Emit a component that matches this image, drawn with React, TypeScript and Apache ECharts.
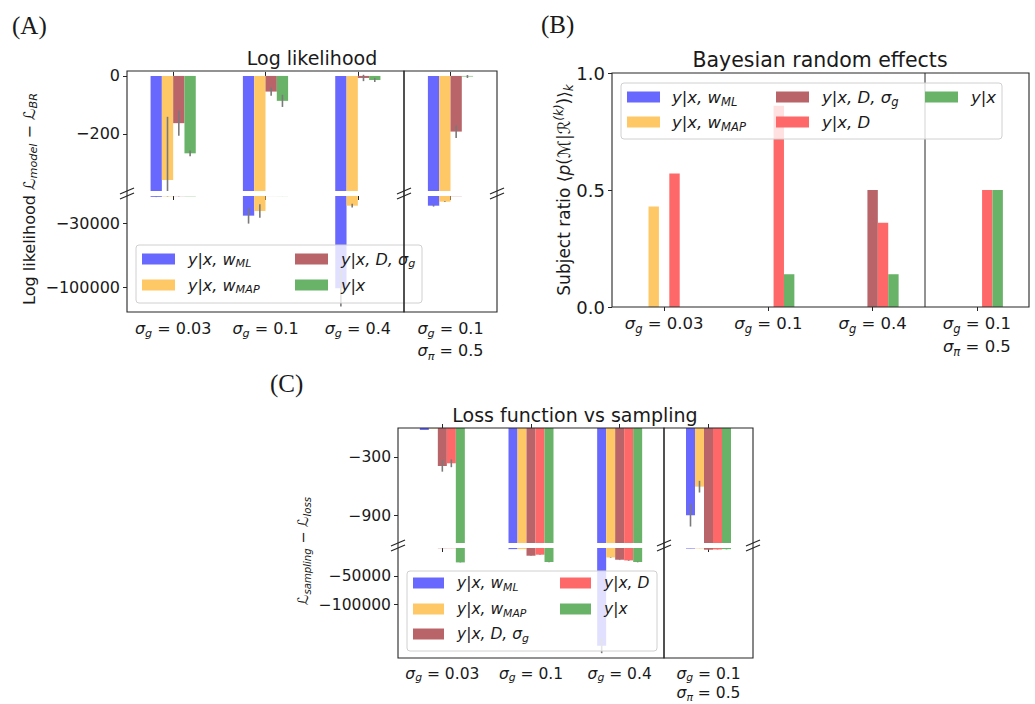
import React, { useEffect, useRef } from 'react';
import * as echarts from 'echarts';

const FONT = 'DejaVu Sans';
const SERIF = 'Liberation Serif';
const INK = '#1a1a1a';
const ERR = '#7a7a7a';
const FRAME = '#262626';

// ---------- categories & models ----------
const categories = ['sg=0.03', 'sg=0.1', 'sg=0.4', 'sg=0.1,sp=0.5'];
const categoryLabels = [
  '{m|σ}{s|g}{n| = 0.03}',
  '{m|σ}{s|g}{n| = 0.1}',
  '{m|σ}{s|g}{n| = 0.4}',
  '{m|σ}{s|g}{n| = 0.1}\n{m|σ}{s|π}{n| = 0.5}',
];
const modelNames = ['y|x, w_ML', 'y|x, w_MAP', 'y|x, D, σ_g', 'y|x, D', 'y|x'];
const modelLegend = ['{i|y|x, w}{s|ML}', '{i|y|x, w}{s|MAP}', '{i|y|x, D, σ}{s|g}', '{i|y|x, D}', '{i|y|x}'];
const modelColors = ['#6868ff', '#ffc866', '#b86468', '#ff6868', '#68b368'];

// ---------- (A) Log likelihood ----------
const llWml = [-900, -21500, -101000, -10600];
const llWmlErr = [300, 8700, 20000, 1000];
const llWmap = [-359, -16400, -10600, -6200];
const llWmapErr = [218, 7500, 2000, 500];
const llDsg = [-163, -54, -7, -192];
const llDsgErr = [43, 14, 11, 22];
const llYx = [-267, -86, -14, -2];
const llYxErr = [10, 21, 7, 5];
const llTopRange = [-397, 17];
const llBottomRange = [-126900, 0];
const llTopTicks = [0, -200];
const llBottomTicks = [-30000, -100000];

// ---------- (B) Bayesian random effects ----------
const brWml = [0, 0, 0, 0];
const brWmap = [0.43, 0, 0, 0];
const brDsg = [0, 0, 0.5, 0];
const brD = [0.57, 0.86, 0.36, 0.5];
const brYx = [0, 0.14, 0.14, 0.5];
const brRange = [0, 1];

// ---------- (C) Loss function vs sampling ----------
const lsWml = [-20, -2000, -172500, -894];
const lsWmlErr = [0, 0, 13000, 117];
const lsWmap = [-5, -2000, -16600, -602];
const lsWmapErr = [0, 0, 500, 60];
const lsDsg = [-390, -13600, -20700, -3000];
const lsDsgErr = [58, 500, 600, 300];
const lsD = [-362, -11800, -21900, -2500];
const lsDErr = [40, 500, 600, 300];
const lsYx = [-25400, -24700, -24700, -2000];
const lsYxErr = [300, 500, 600, 300];
const lsTopRange = [-1180, 0];
const lsBottomRange = [-194000, 0];
const lsTopTicks = [-300, -900];
const lsBottomTicks = [-50000, -100000];

const fmtNeg = (v: number) => (v < 0 ? '−' + String(Math.abs(v)) : String(v));

function buildOption() {
  const grid: any[] = [];
  const xAxis: any[] = [];
  const yAxis: any[] = [];
  const series: any[] = [];
  const graphic: any[] = [];

  const xRich = (fs: number, lh: number) => ({
    m: { fontFamily: FONT, fontStyle: 'italic', fontSize: fs, lineHeight: fs * lh, color: INK },
    s: { fontFamily: FONT, fontStyle: 'italic', fontSize: fs * 0.7, lineHeight: fs * 0.6, verticalAlign: 'bottom', color: INK },
    n: { fontFamily: FONT, fontSize: fs, lineHeight: fs * lh, color: INK },
  });

  function addGrid(o: {
    box: number[]; cats: number[]; xMode: 'top' | 'bottom'; range: number[];
    ticks: number[] | null; showY: boolean; fs: number; xfs: number; lh?: number; margin?: number;
    fmt?: (v: number) => string; interval?: number;
  }) {
    const g = grid.length;
    grid.push({ left: o.box[0], top: o.box[1], width: o.box[2], height: o.box[3], containLabel: false, outerBoundsMode: 'none' });
    xAxis.push({
      type: 'category', gridIndex: g, position: o.xMode, boundaryGap: true,
      data: o.cats.map((c) => categories[c]),
      axisLine: { show: false },
      splitLine: { show: false },
      axisTick: { show: true, alignWithLabel: true, length: 4, lineStyle: { color: FRAME, width: 1 } },
      axisLabel: {
        show: o.xMode === 'bottom', interval: 0, margin: o.margin ?? 5,
        formatter: (v: string) => categoryLabels[categories.indexOf(v)],
        rich: xRich(o.xfs, o.lh ?? 1.4),
      },
    });
    const yTickCfg: any = { show: o.showY, length: 4, lineStyle: { color: FRAME, width: 1 } };
    const yLabCfg: any = {
      show: o.showY, margin: 7, color: INK, fontFamily: FONT, fontSize: o.fs,
      formatter: o.fmt || fmtNeg,
    };
    if (o.ticks) {
      yTickCfg.customValues = o.ticks;
      yLabCfg.customValues = o.ticks;
    }
    const y: any = {
      type: 'value', gridIndex: g, min: o.range[0], max: o.range[1],
      axisLine: { show: false }, splitLine: { show: false },
      axisTick: yTickCfg, axisLabel: yLabCfg,
    };
    if (o.interval) y.interval = o.interval;
    yAxis.push(y);
    return g;
  }

  function addBars(g: number, cats: number[], members: number[], values: number[][], errs: number[][] | null, bw: number) {
    members.forEach((m, p) => {
      series.push({
        type: 'bar', name: modelNames[m], xAxisIndex: g, yAxisIndex: g,
        data: cats.map((c) => values[p][c]),
        barWidth: bw, barGap: '0%', clip: true, silent: true,
        itemStyle: { color: modelColors[m] },
      });
    });
    if (!errs) return;
    const n = members.length;
    const data: number[][] = [];
    members.forEach((m, p) => {
      cats.forEach((c, ci) => {
        if (errs[p][c] > 0) data.push([ci, p, values[p][c], errs[p][c]]);
      });
    });
    series.push({
      type: 'custom', xAxisIndex: g, yAxisIndex: g, z: 5, silent: true,
      encode: { x: 0, y: 2 },
      data,
      renderItem: (params: any, api: any) => {
        const ci = api.value(0);
        const p = api.value(1);
        const v = api.value(2);
        const e = api.value(3);
        const a = api.coord([ci, v + e]);
        const b = api.coord([ci, v - e]);
        const cs = params.coordSys;
        const x = a[0] + (p - (n - 1) / 2) * bw;
        const y1 = Math.max(Math.min(a[1], b[1]), cs.y);
        const y2 = Math.min(Math.max(a[1], b[1]), cs.y + cs.height);
        if (y2 <= y1) return { type: 'group', children: [] };
        return { type: 'line', shape: { x1: x, y1, x2: x, y2 }, style: { stroke: ERR, lineWidth: 1.6 } };
      },
    });
  }

  // ---- Panel A ----
  const aMembers = [0, 1, 2, 4];
  const aVals = [llWml, llWmap, llDsg, llYx];
  const aErrs = [llWmlErr, llWmapErr, llDsgErr, llYxErr];
  const aBW = 11.3;
  let g = addGrid({ box: [127, 71, 277, 120], cats: [0, 1, 2], xMode: 'top', range: llTopRange, ticks: llTopTicks, showY: true, fs: 16, xfs: 16 });
  addBars(g, [0, 1, 2], aMembers, aVals, aErrs, aBW);
  g = addGrid({ box: [127, 196, 277, 116], cats: [0, 1, 2], xMode: 'bottom', range: llBottomRange, ticks: llBottomTicks, showY: true, fs: 16, xfs: 16 });
  addBars(g, [0, 1, 2], aMembers, aVals, aErrs, aBW);
  g = addGrid({ box: [404, 71, 93, 120], cats: [3], xMode: 'top', range: llTopRange, ticks: null, showY: false, fs: 16, xfs: 16 });
  addBars(g, [3], aMembers, aVals, aErrs, aBW);
  g = addGrid({ box: [404, 196, 93, 116], cats: [3], xMode: 'bottom', range: llBottomRange, ticks: null, showY: false, fs: 16, xfs: 16 });
  addBars(g, [3], aMembers, aVals, aErrs, aBW);

  // ---- Panel B ----
  g = addGrid({
    box: [612, 73, 417, 234], cats: [0, 1, 2, 3], xMode: 'bottom', range: brRange, ticks: null, showY: true,
    fs: 18, xfs: 16.5, fmt: (v: number) => v.toFixed(1), interval: 0.5,
  });
  addBars(g, [0, 1, 2, 3], [0, 1, 2, 3, 4], [brWml, brWmap, brDsg, brD, brYx], null, 10.4);

  // ---- Panel C ----
  const cMembers = [0, 1, 2, 3, 4];
  const cVals = [lsWml, lsWmap, lsDsg, lsD, lsYx];
  const cErrs = [lsWmlErr, lsWmapErr, lsDsgErr, lsDErr, lsYxErr];
  const cBW = 9;
  g = addGrid({ box: [398, 428, 266, 115], cats: [0, 1, 2], xMode: 'top', range: lsTopRange, ticks: lsTopTicks, showY: true, fs: 15.5, xfs: 15.5 });
  addBars(g, [0, 1, 2], cMembers, cVals, cErrs, cBW);
  g = addGrid({ box: [398, 548, 266, 110], cats: [0, 1, 2], xMode: 'bottom', range: lsBottomRange, ticks: lsBottomTicks, showY: true, fs: 15.5, xfs: 15.5, lh: 1.25, margin: 6 });
  addBars(g, [0, 1, 2], cMembers, cVals, cErrs, cBW);
  g = addGrid({ box: [664, 428, 89, 115], cats: [3], xMode: 'top', range: lsTopRange, ticks: null, showY: false, fs: 15.5, xfs: 15.5 });
  addBars(g, [3], cMembers, cVals, cErrs, cBW);
  g = addGrid({ box: [664, 548, 89, 110], cats: [3], xMode: 'bottom', range: lsBottomRange, ticks: null, showY: false, fs: 15.5, xfs: 15.5, lh: 1.25, margin: 6 });
  addBars(g, [3], cMembers, cVals, cErrs, cBW);

  // ---------- graphic helpers ----------
  const text = (x: number, y: number, t: string, st: any, extra: any = {}) => ({
    type: 'text', x, y, z: 100, silent: true, ...extra,
    style: {
      text: t, fill: INK, fontFamily: FONT, textAlign: 'center', textVerticalAlign: 'middle',
      align: 'center', verticalAlign: 'middle', ...st,
    },
  });
  const line = (x1: number, y1: number, x2: number, y2: number, z = 60, w = 1) => ({
    type: 'line', z, silent: true, shape: { x1, y1, x2, y2 }, style: { stroke: FRAME, lineWidth: w },
  });
  const frame = (x: number, y: number, w: number, h: number) => ({
    type: 'rect', z: 60, silent: true, shape: { x, y, width: w, height: h },
    style: { fill: 'none', stroke: FRAME, lineWidth: 1.1 },
  });
  const brk = (x: number, ya: number, yb: number) => [
    line(x - 7, ya + 3, x + 7, ya - 3, 61, 1.2),
    line(x - 7, yb + 3, x + 7, yb - 3, 61, 1.2),
  ];
  const mathRich = (fs: number) => ({
    n: { fontFamily: FONT, fontSize: fs, lineHeight: fs * 1.3, fill: INK, color: INK },
    i: { fontFamily: FONT, fontStyle: 'italic', fontSize: fs, lineHeight: fs * 1.3, fill: INK, color: INK },
    c: { fontFamily: FONT, fontSize: fs, lineHeight: fs * 1.3, fill: INK, color: INK },
    s: { fontFamily: FONT, fontStyle: 'italic', fontSize: fs * 0.7, lineHeight: fs * 0.55, verticalAlign: 'bottom', fill: INK, color: INK },
    sup: { fontFamily: FONT, fontStyle: 'italic', fontSize: fs * 0.7, lineHeight: fs * 0.55, verticalAlign: 'top', fill: INK, color: INK },
  });
  const legend = (box: number[], items: { m: number; x: number; y: number; tx: number }[], sw: number, fs: number) => {
    const out: any[] = [
      {
        type: 'rect', z: 50, silent: true, shape: { x: box[0], y: box[1], width: box[2], height: box[3], r: 3 },
        style: { fill: 'rgba(255,255,255,0.8)', stroke: '#d0d0d0', lineWidth: 1 },
      },
    ];
    items.forEach((it) => {
      out.push({
        type: 'rect', z: 51, silent: true, shape: { x: it.x, y: it.y - 5.5, width: sw, height: 11 },
        style: { fill: modelColors[it.m] },
      });
      out.push(text(it.tx, it.y, modelLegend[it.m], { textAlign: 'left', align: 'left', rich: mathRich(fs) }, { z: 52 }));
    });
    return out;
  };

  // panel labels
  graphic.push(text(12, 25, '(A)', { fontFamily: SERIF, fontSize: 25, textAlign: 'left', align: 'left' }));
  graphic.push(text(541, 24, '(B)', { fontFamily: SERIF, fontSize: 25, textAlign: 'left', align: 'left' }));
  graphic.push(text(270, 383, '(C)', { fontFamily: SERIF, fontSize: 25, textAlign: 'left', align: 'left' }));

  // titles
  graphic.push(text(312, 58, 'Log likelihood', { fontSize: 19 }));
  graphic.push(text(820, 60, 'Bayesian random effects', { fontSize: 20.5 }));
  graphic.push(text(575, 415, 'Loss function vs sampling', { fontSize: 19 }));

  // y-axis names
  graphic.push(text(29, 199, '{n|Log likelihood }{c|ℒ}{s|model}{n| − }{c|ℒ}{s|BR}', { rich: mathRich(16) }, { rotation: Math.PI / 2 }));
  graphic.push(text(564, 190, '{n|Subject ratio ⟨}{i|p}{n|(ℳ|ℛ}{sup|(k)}{n|)⟩}{s|k}', { rich: mathRich(17) }, { rotation: Math.PI / 2 }));
  graphic.push(text(303, 551, '{c|ℒ}{s|sampling}{n| − }{c|ℒ}{s|loss}', { rich: mathRich(14.5) }, { rotation: Math.PI / 2 }));

  // frames
  graphic.push(frame(127, 71, 277, 241), frame(404, 71, 93, 241));
  graphic.push(frame(612, 73, 417, 234), line(925, 73, 925, 307, 40));
  graphic.push(frame(398, 428, 266, 230), frame(664, 428, 89, 230));
  // break marks
  [127, 404, 497].forEach((x) => graphic.push(...brk(x, 191, 196)));
  [398, 664, 753].forEach((x) => graphic.push(...brk(x, 543, 548)));

  // legends
  graphic.push(...legend([136, 245, 286, 58], [
    { m: 0, x: 142, y: 259, tx: 188 },
    { m: 1, x: 142, y: 285, tx: 188 },
    { m: 2, x: 295, y: 259, tx: 341 },
    { m: 4, x: 295, y: 285, tx: 341 },
  ], 33, 16));
  graphic.push(...legend([621, 83, 381, 56], [
    { m: 0, x: 627, y: 97, tx: 672 },
    { m: 1, x: 627, y: 122, tx: 672 },
    { m: 2, x: 776, y: 97, tx: 822 },
    { m: 3, x: 776, y: 122, tx: 822 },
    { m: 4, x: 925, y: 97, tx: 971 },
  ], 33, 16.5));
  graphic.push(...legend([407, 571, 250, 80], [
    { m: 0, x: 413, y: 583, tx: 457 },
    { m: 1, x: 413, y: 609, tx: 457 },
    { m: 2, x: 413, y: 634, tx: 457 },
    { m: 3, x: 560, y: 583, tx: 604 },
    { m: 4, x: 560, y: 609, tx: 604 },
  ], 31, 15.5));

  return { animation: false, backgroundColor: '#ffffff', grid, xAxis, yAxis, series, graphic };
}

export default function App() {
  const ref = useRef<HTMLDivElement>(null);
  useEffect(() => {
    if (!ref.current) return;
    const chart = echarts.init(ref.current, undefined, { renderer: 'svg' });
    chart.setOption(buildOption() as any);
    return () => chart.dispose();
  }, []);
  return <div ref={ref} style={{ position: 'fixed', left: 0, top: 0, width: 1035, height: 704, background: '#fff' }} />;
}
